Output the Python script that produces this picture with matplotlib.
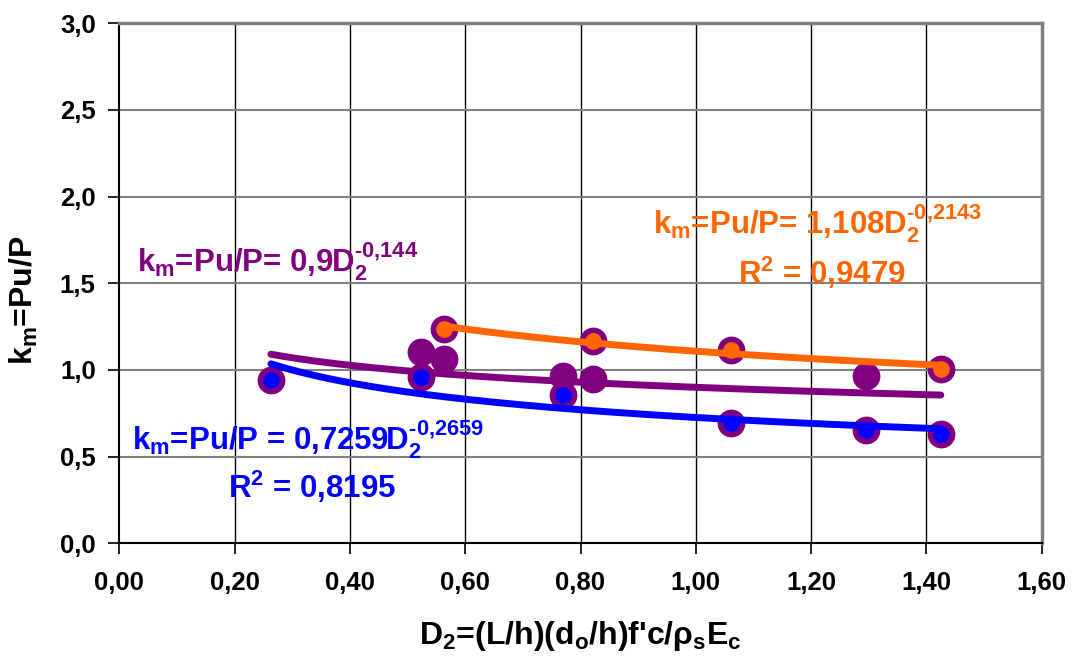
import matplotlib
matplotlib.use("Agg")
import matplotlib.pyplot as plt
import numpy as np
from matplotlib.ticker import FuncFormatter

plt.rcParams['font.family'] = ['Liberation Sans', 'DejaVu Sans']
plt.rcParams['font.weight'] = 'bold'
plt.rcParams['mathtext.fontset'] = 'custom'
plt.rcParams['mathtext.rm'] = 'Liberation Sans:bold'
plt.rcParams['mathtext.it'] = 'Liberation Sans:bold'
plt.rcParams['mathtext.bf'] = 'Liberation Sans:bold'
plt.rcParams['mathtext.sf'] = 'Liberation Sans:bold'
plt.rcParams['mathtext.default'] = 'rm'

# All data (purple)
x_all = [0.263, 0.523, 0.523, 0.563, 0.563, 0.769, 0.769, 0.821, 0.821,
         1.061, 1.061, 1.295, 1.295, 1.425, 1.425]
y_all = [0.942, 1.102, 0.958, 1.237, 1.064, 0.964, 0.855, 1.169, 0.948,
         1.113, 0.694, 0.964, 0.654, 1.006, 0.631]
# Blue subset
x_blue = [0.263, 0.523, 0.769, 1.061, 1.295, 1.425]
y_blue = [0.942, 0.958, 0.855, 0.694, 0.654, 0.631]
# Orange subset
x_orange = [0.563, 0.821, 1.061, 1.425]
y_orange = [1.237, 1.169, 1.113, 1.006]

# Power trend coefficients (as shown on chart)
fit_purple = (0.9, -0.144)
fit_blue = (0.7259, -0.2659)
fit_orange = (1.108, -0.2143)

xticks = [0.0, 0.2, 0.4, 0.6, 0.8, 1.0, 1.2, 1.4, 1.6]
yticks = [0.0, 0.5, 1.0, 1.5, 2.0, 2.5, 3.0]

PURPLE = '#800080'
BLUE = '#0000FF'
ORANGE = '#FF6600'

fig = plt.figure(figsize=(10.74, 6.57), dpi=100)
ax = fig.add_axes([119.3 / 1074, 1 - 543.3 / 657, 922.4 / 1074, 520 / 657])

ax.set_xlim(0, 1.6)
ax.set_ylim(0, 3.0)
ax.set_xticks(xticks)
ax.set_yticks(yticks)
ax.xaxis.set_major_formatter(FuncFormatter(lambda v, p: f'{v:.2f}'.replace('.', ',')))
ax.yaxis.set_major_formatter(FuncFormatter(lambda v, p: f'{v:.1f}'.replace('.', ',')))

# grid
for xv in xticks[1:-1]:
    ax.axvline(xv, color='black', lw=1.0, zorder=1)
for yv in yticks[1:-1]:
    ax.axhline(yv, color='#808080', lw=1.5, zorder=1)

ax.spines['top'].set_color('#808080')
ax.spines['top'].set_linewidth(2.5)
ax.spines['right'].set_color('#808080')
ax.spines['right'].set_linewidth(2.5)
ax.spines['left'].set_color('black')
ax.spines['left'].set_linewidth(1.5)
ax.spines['bottom'].set_color('black')
ax.spines['bottom'].set_linewidth(1.5)

ax.tick_params(axis='both', direction='out', length=8, width=1.2, color='black',
               labelsize=18.5)
ax.tick_params(axis='x', pad=12)
ax.tick_params(axis='y', pad=9)
for lbl in ax.get_xticklabels() + ax.get_yticklabels():
    lbl.set_fontweight('bold')

# markers
ax.plot(x_all, y_all, 'o', ms=19, color=PURPLE, mec=PURPLE, zorder=3, ls='none')

def trend(fit, x0, x1):
    xs = np.linspace(x0, x1, 200)
    return xs, fit[0] * xs ** fit[1]

xs, ys = trend(fit_purple, min(x_all), max(x_all))
ax.plot(xs, ys, color=PURPLE, lw=5, solid_capstyle='round', zorder=4)
xs, ys = trend(fit_blue, min(x_blue), max(x_blue))
ax.plot(xs, ys, color=BLUE, lw=5, solid_capstyle='round', zorder=4)
xs, ys = trend(fit_orange, min(x_orange), max(x_orange))
ax.plot(xs, ys, color=ORANGE, lw=5, solid_capstyle='round', zorder=4)

ax.plot(x_blue, y_blue, 'o', ms=11, color=BLUE, zorder=5, ls='none')
ax.plot(x_orange, y_orange, 'o', ms=11, color=ORANGE, zorder=5, ls='none')

fs = 22.5
ax.text(0.031, 1.565, r'k$_{m}$=Pu/P= 0,9D$_{2}^{\text{-0,144}}$', color=PURPLE,
        fontsize=fs, fontweight='bold', va='baseline', ha='left', zorder=6)
ax.text(0.925, 1.779, r'k$_{m}$=Pu/P= 1,108D$_{2}^{\text{-0,2143}}$', color=ORANGE,
        fontsize=fs, fontweight='bold', va='baseline', ha='left', zorder=6)
ax.text(1.073, 1.496, r'R$^{2}$ = 0,9479', color=ORANGE,
        fontsize=fs, fontweight='bold', va='baseline', ha='left', zorder=6)
ax.text(0.022, 0.538, r'k$_{m}$=Pu/P = 0,7259D$_{2}^{\text{-0,2659}}$', color=BLUE,
        fontsize=fs, fontweight='bold', va='baseline', ha='left', zorder=6)
ax.text(0.189, 0.261, r'R$^{2}$ = 0,8195', color=BLUE,
        fontsize=fs, fontweight='bold', va='baseline', ha='left', zorder=6)

ax.set_xlabel(r"D$_{2}$=(L/h)(d$_{o}$/h)f'c/$\rho_{s}$E$_{c}$", fontsize=23,
              fontweight='bold')
ax.set_ylabel(r'k$_{m}$=Pu/P', fontsize=23, fontweight='bold')
ax.xaxis.set_label_coords(0.5, -0.145)
ax.yaxis.set_label_coords(-0.086, 0.468)

fig.savefig('out.png', dpi=100, facecolor='white')
